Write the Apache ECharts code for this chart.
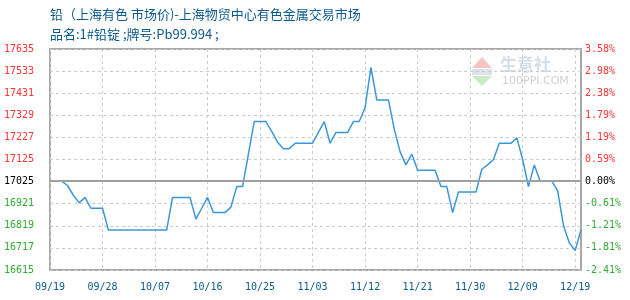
<!DOCTYPE html>
<html>
<head>
<meta charset="utf-8">
<script src="https://cdn.jsdelivr.net/npm/echarts@6/dist/echarts.min.js"></script>
<style>
html,body{margin:0;padding:0;background:#fff;}
#chart{width:630px;height:300px;}
</style>
</head>
<body>
<div id="chart"></div>
<script>
var titleLine1 = '铅（上海有色 市场价)-上海物贸中心有色金属交易市场';
var titleLine2 = '品名:1#铅锭 ;牌号:Pb99.994 ;';

var dates = [
'09/19','09/20','09/21','09/22','09/23','09/24','09/25','09/26','09/27','09/28','09/29','09/30',
'10/01','10/02','10/03','10/04','10/05','10/06','10/07','10/08','10/09','10/10','10/11','10/12','10/13','10/14','10/15','10/16','10/17','10/18','10/19','10/20','10/21','10/22','10/23','10/24','10/25','10/26','10/27','10/28','10/29','10/30','10/31',
'11/01','11/02','11/03','11/04','11/05','11/06','11/07','11/08','11/09','11/10','11/11','11/12','11/13','11/14','11/15','11/16','11/17','11/18','11/19','11/20','11/21','11/22','11/23','11/24','11/25','11/26','11/27','11/28','11/29','11/30',
'12/01','12/02','12/03','12/04','12/05','12/06','12/07','12/08','12/09','12/10','12/11','12/12','12/13','12/14','12/16','12/17','12/18','12/19','12/20'
];

var prices = [
17025,17025,17025,17005,16960,16925,16950,16900,16900,16900,
16800,16800,16800,16800,16800,16800,16800,16800,16800,16800,
16800,16950,16950,16950,16950,16850,16900,16950,16880,16880,
16880,16905,17000,17000,17150,17300,17300,17300,17255,17205,
17175,17175,17200,17200,17200,17200,17250,17300,17200,17250,
17250,17250,17300,17300,17365,17550,17400,17400,17400,17265,
17160,17100,17150,17075,17075,17075,17075,17000,17000,16880,
16975,16975,16975,16975,17080,17100,17125,17200,17200,17200,
17225,17125,17000,17100,17025,17025,17025,16980,16820,16740,
16705,16800
];

var leftTicks = ['16615','16717','16819','16921','17025','17125','17227','17329','17431','17533','17635'];
var rightTicks = ['-2.41%','-1.81%','-1.21%','-0.61%','0.00%','0.59%','1.19%','1.79%','2.38%','2.98%','3.58%'];
var basePrice = 17025;
var axisBottom = 16615;
var axisTop = 17635;

var step = (axisTop - axisBottom) / (leftTicks.length - 1);
var zeroIndex = leftTicks.indexOf(String(basePrice));

function tickColor(value) {
  var idx = Math.round(value / step);
  if (idx > zeroIndex) return '#ff3333';
  if (idx < zeroIndex) return '#33aa33';
  return '#000000';
}

var chart = echarts.init(document.getElementById('chart'), null, {renderer: 'canvas'});
var labelFont = 'DejaVu Sans Mono';
var blue = '#0d5a8a';

chart.setOption({
  animation: false,
  backgroundColor: '#ffffff',
  grid: {
    left: 50, right: 49, top: 49, bottom: 30,
    show: true, borderColor: '#a8a8a8', borderWidth: 2, backgroundColor: 'transparent'
  },
  graphic: [
    {type: 'text', left: 50, top: 8, style: {text: titleLine1, fill: blue, font: '13px "Noto Sans CJK SC"'}},
    {type: 'text', left: 50, top: 28, style: {text: titleLine2, fill: blue, font: '13px "Noto Sans CJK SC"'}},
    {type: 'polygon', shape: {points: [[482,57],[472,68],[492,68]]}, style: {fill: '#f6c4c4'}, silent: true},
    {type: 'rect', shape: {x: 472, y: 69, width: 20, height: 6}, style: {fill: '#dde3ea'}, silent: true},
    {type: 'polygon', shape: {points: [[472,76],[492,76],[482,86]]}, style: {fill: '#c8ecc8'}, silent: true},
    {type: 'text', left: 500, top: 56, style: {text: '生意社', fill: '#d6dde6', font: 'bold 17px "Noto Sans CJK SC"'}, silent: true},
    {type: 'text', left: 502, top: 76, style: {text: '100PPI.COM', fill: '#cfcfcf', font: '11px "DejaVu Sans"'}, silent: true}
  ],
  xAxis: {
    type: 'category',
    data: dates,
    boundaryGap: false,
    axisLine: {show: false},
    axisTick: {show: false},
    axisLabel: {interval: 8, color: blue, fontFamily: labelFont, fontSize: 10, margin: 12},
    splitLine: {show: true, interval: 8, lineStyle: {color: '#cccccc', type: [3, 3], width: 1}}
  },
  yAxis: [
    {
      type: 'value', min: 0, max: axisTop - axisBottom, interval: step,
      axisLine: {show: false}, axisTick: {show: false},
      axisLabel: {
        margin: 16, fontFamily: labelFont, fontSize: 10,
        formatter: function (v) { return leftTicks[Math.round(v / step)]; },
        color: function (v) { return tickColor(v); }
      },
      splitLine: {show: true, lineStyle: {color: '#cccccc', type: [3, 3], width: 1}}
    },
    {
      type: 'value', min: 0, max: axisTop - axisBottom, interval: step, position: 'right',
      axisLine: {show: false}, axisTick: {show: false},
      axisLabel: {
        margin: 4, fontFamily: labelFont, fontSize: 10,
        formatter: function (v) { return rightTicks[Math.round(v / step)]; },
        color: function (v) { return tickColor(v); }
      },
      splitLine: {show: false}
    }
  ],
  series: [{
    type: 'line',
    data: prices.map(function (p) { return p - axisBottom; }),
    showSymbol: false,
    symbol: 'none',
    lineStyle: {color: '#3a98d8', width: 1.5},
    markLine: {
      silent: true, symbol: 'none', label: {show: false},
      lineStyle: {color: '#a0a0a0', type: 'solid', width: 2},
      data: [{yAxis: basePrice - axisBottom}]
    },
    z: 3
  }]
});
</script>
</body>
</html>
